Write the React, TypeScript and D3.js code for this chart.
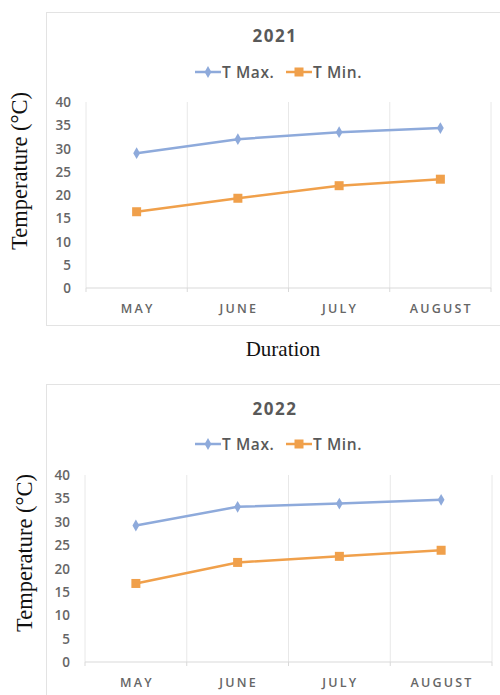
import React, { useRef, useEffect } from 'react';
import * as d3 from 'd3';

const months = ['MAY', 'JUNE', 'JULY', 'AUGUST'];
const yTicks = [0, 5, 10, 15, 20, 25, 30, 35, 40];
const seriesNames = ['T Max.', 'T Min.'];

const tmax2021 = [29.0, 32.0, 33.5, 34.4];
const tmin2021 = [16.4, 19.3, 22.0, 23.4];
const tmax2022 = [29.2, 33.2, 33.9, 34.7];
const tmin2022 = [16.8, 21.3, 22.6, 23.9];

const BLUE = '#8eaadb';
const ORANGE = '#f0a04b';
const GREY = '#595959';
const TICK_FONT = '"Open Sans", "Liberation Sans", sans-serif';

interface Panel {
  year: string;
  tmax: number[];
  tmin: number[];
  box: { x: number; y: number; w: number; h: number };
  plot: { left: number; right: number; top: number; bottom: number };
  titleY: number;
  legendY: number;
  yTitle: { x: number; y: number };
}

const panels: Panel[] = [
  {
    year: '2021', tmax: tmax2021, tmin: tmin2021,
    box: { x: 46.5, y: 12.5, w: 470, h: 313 },
    plot: { left: 86, right: 491, top: 102, bottom: 288 },
    titleY: 41, legendY: 72,
    yTitle: { x: 20, y: 171 },
  },
  {
    year: '2022', tmax: tmax2022, tmin: tmin2022,
    box: { x: 46.5, y: 384.5, w: 470, h: 330 },
    plot: { left: 85, right: 492, top: 475, bottom: 662 },
    titleY: 414, legendY: 444,
    yTitle: { x: 25, y: 553 },
  },
];

const App: React.FC = () => {
  const svgRef = useRef<SVGSVGElement>(null);

  useEffect(() => {
    if (!svgRef.current) return;
    const svg = d3.select(svgRef.current);
    svg.selectAll('*').remove();

    svg.append('rect').attr('width', 500).attr('height', 695).attr('fill', '#fff');

    const diamond = d3.symbol().type(d3.symbolDiamond).size(40);

    panels.forEach(p => {
      const g = svg.append('g');

      // chart frame
      g.append('rect')
        .attr('x', p.box.x).attr('y', p.box.y)
        .attr('width', p.box.w).attr('height', p.box.h)
        .attr('fill', '#fff').attr('stroke', '#e3e3e3').attr('stroke-width', 1);

      const x = d3.scaleBand<string>()
        .domain(months)
        .range([p.plot.left, p.plot.right]);
      const cx = (m: string) => (x(m) || 0) + x.bandwidth() / 2;

      const y = d3.scaleLinear()
        .domain([0, 40])
        .range([p.plot.bottom, p.plot.top]);

      // vertical gridlines at category boundaries
      const bounds = months.map(m => x(m) || 0).concat([p.plot.right]);
      g.selectAll('.vgrid')
        .data(bounds)
        .enter().append('line')
        .attr('x1', d => d).attr('x2', d => d)
        .attr('y1', p.plot.top).attr('y2', p.plot.bottom)
        .attr('stroke', '#e8e8e8').attr('stroke-width', 1);

      // x axis line and ticks
      g.append('line')
        .attr('x1', p.plot.left).attr('x2', p.plot.right)
        .attr('y1', p.plot.bottom).attr('y2', p.plot.bottom)
        .attr('stroke', '#d9d9d9').attr('stroke-width', 1);
      g.selectAll('.xtick')
        .data(bounds)
        .enter().append('line')
        .attr('x1', d => d).attr('x2', d => d)
        .attr('y1', p.plot.bottom).attr('y2', p.plot.bottom + 4)
        .attr('stroke', '#d9d9d9').attr('stroke-width', 1);

      // y tick labels
      g.selectAll('.ylab')
        .data(yTicks)
        .enter().append('text')
        .attr('x', p.plot.left - 15)
        .attr('y', d => y(d) + 5)
        .attr('text-anchor', 'end')
        .attr('font-family', TICK_FONT)
        .attr('font-size', 13.5)
        .attr('font-weight', 600)
        .attr('fill', '#666')
        .text(d => d);

      // category labels
      g.selectAll('.xlab')
        .data(months)
        .enter().append('text')
        .attr('x', d => cx(d) + 1)
        .attr('y', p.plot.bottom + 25)
        .attr('text-anchor', 'middle')
        .attr('font-family', TICK_FONT)
        .attr('font-size', 12.5)
        .attr('font-weight', 600)
        .attr('letter-spacing', 2.2)
        .attr('fill', '#666')
        .text(d => d);

      // title
      g.append('text')
        .attr('x', 275).attr('y', p.titleY + 1)
        .attr('text-anchor', 'middle')
        .attr('font-family', TICK_FONT)
        .attr('font-size', 17)
        .attr('font-weight', 'bold')
        .attr('letter-spacing', 1.5)
        .attr('fill', GREY)
        .text(p.year);

      // legend
      const leg = [
        { name: seriesNames[0], color: BLUE, x0: 195, square: false },
        { name: seriesNames[1], color: ORANGE, x0: 286, square: true },
      ];
      leg.forEach(l => {
        g.append('line')
          .attr('x1', l.x0).attr('x2', l.x0 + 26)
          .attr('y1', p.legendY).attr('y2', p.legendY)
          .attr('stroke', l.color).attr('stroke-width', 2.5);
        if (l.square) {
          g.append('rect')
            .attr('x', l.x0 + 13 - 4.5).attr('y', p.legendY - 4.5)
            .attr('width', 9).attr('height', 9)
            .attr('fill', l.color);
        } else {
          g.append('path')
            .attr('d', diamond() as string)
            .attr('transform', `translate(${l.x0 + 13},${p.legendY})`)
            .attr('fill', l.color);
        }
        g.append('text')
          .attr('x', l.x0 + 27).attr('y', p.legendY + 5.5)
          .attr('font-family', TICK_FONT)
          .attr('font-size', 15.5)
          .attr('font-weight', 600)
          .attr('letter-spacing', 0.6)
          .attr('fill', GREY)
          .text(l.name);
      });

      // series
      const line = d3.line<number>()
        .x((_, i) => cx(months[i]))
        .y(d => y(d));

      g.append('path')
        .datum(p.tmax)
        .attr('d', line)
        .attr('fill', 'none')
        .attr('stroke', BLUE)
        .attr('stroke-width', 2.5);
      g.selectAll('.maxpt')
        .data(p.tmax)
        .enter().append('path')
        .attr('d', diamond() as string)
        .attr('transform', (d, i) => `translate(${cx(months[i])},${y(d)})`)
        .attr('fill', BLUE);

      g.append('path')
        .datum(p.tmin)
        .attr('d', line)
        .attr('fill', 'none')
        .attr('stroke', ORANGE)
        .attr('stroke-width', 2.5);
      g.selectAll('.minpt')
        .data(p.tmin)
        .enter().append('rect')
        .attr('x', (d, i) => cx(months[i]) - 4.5)
        .attr('y', d => y(d) - 4.5)
        .attr('width', 9).attr('height', 9)
        .attr('fill', ORANGE);

      // y axis title
      g.append('text')
        .attr('transform', `translate(${p.yTitle.x + 7},${p.yTitle.y}) rotate(-90)`)
        .attr('text-anchor', 'middle')
        .attr('font-family', '"Liberation Serif", "Times New Roman", serif')
        .attr('font-size', 22.5)
        .attr('fill', '#111')
        .text('Temperature (°C)');
    });

    // x axis title between the panels
    svg.append('text')
      .attr('x', 283).attr('y', 356)
      .attr('text-anchor', 'middle')
      .attr('font-family', '"Liberation Serif", "Times New Roman", serif')
      .attr('font-size', 21)
      .attr('fill', '#111')
      .text('Duration');
  }, []);

  return (
    <svg
      ref={svgRef}
      width={500}
      height={695}
      style={{ position: 'absolute', left: 0, top: 0, display: 'block' }}
    />
  );
};

export default App;
